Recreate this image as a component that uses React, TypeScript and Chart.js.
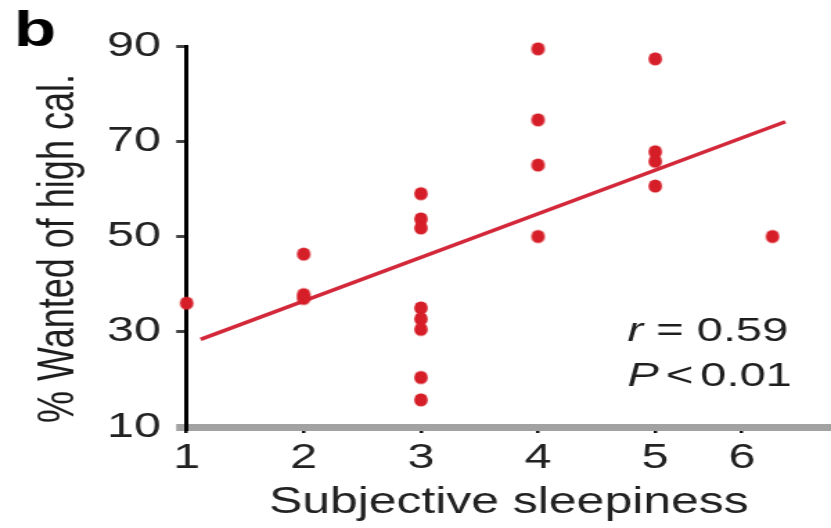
import { useEffect, useRef } from 'react';
import { Chart, registerables } from 'chart.js';

Chart.register(...registerables);

// Subjective sleepiness score vs. % of high-calorie items wanted
const sleepiness = [1, 2, 2, 2, 3, 3, 3, 3, 3, 3, 3, 3, 4, 4, 4, 4, 5, 5, 5, 5, 6];
const wantedHighCal = [36, 46.3, 37.8, 37, 59, 53.7, 51.8, 35, 32.7, 30.5, 20.4, 15.7, 89.4, 74.5, 65, 50, 87.3, 67.8, 65.8, 60.6, 50];

// Least-squares fit line end points
const fitSleepiness = [1.12, 6.11];
const fitWanted = [28.4, 74.1];

const xTickValues = [1, 2, 3, 4, 5, 5.74];
const xTickLabels = ['1', '2', '3', '4', '5', '6'];
const yTickValues = [10, 30, 50, 70, 90];

const panelLetter = 'b';
const xTitle = 'Subjective sleepiness';
const yTitle = '% Wanted of high cal.';
const statR = '0.59';
const statP = '0.01';

const FONT = '"Liberation Sans", Arial, Helvetica, sans-serif';
const RED = '#d61e28';
const LINE_RED = '#d2283a';

// The figure is drawn on a narrower canvas and widened with CSS.
const CANVAS_W = 600;
const CANVAS_H = 528;
const STRETCH = 831 / CANVAS_W;

function makeDot(): HTMLCanvasElement {
  const c = document.createElement('canvas');
  c.width = 12;
  c.height = 16;
  const g = c.getContext('2d')!;
  g.fillStyle = RED;
  g.beginPath();
  g.ellipse(6, 8, 6.8 / STRETCH, 6.6, 0, 0, Math.PI * 2);
  g.fill();
  return c;
}

function drawRun(ctx: CanvasRenderingContext2D, parts: [string, boolean][], x: number, y: number, gap: number) {
  let cx = x;
  for (const [t, italic] of parts) {
    ctx.font = `${italic ? 'italic ' : ''}34px ${FONT}`;
    ctx.fillText(t, cx, y);
    cx += ctx.measureText(t).width + gap;
  }
}

const textPlugin = {
  id: 'figureText',
  afterDraw(chart: Chart) {
    const ctx = chart.ctx;
    ctx.save();
    ctx.fillStyle = '#000';
    ctx.textBaseline = 'alphabetic';
    ctx.textAlign = 'left';
    ctx.font = `bold 50px ${FONT}`;
    ctx.fillText(panelLetter, 10, 46);

    ctx.fillStyle = '#1e1e1e';
    ctx.textBaseline = 'middle';
    drawRun(ctx, [['r', true], ['=', false], [statR, false]], 453, 332, 9.4);
    drawRun(ctx, [['P', true], ['<', false], [statP, false]], 453, 377, 5);

    ctx.translate(52.7, 248.5);
    ctx.rotate(-Math.PI / 2);
    ctx.textAlign = 'center';
    ctx.textBaseline = 'alphabetic';
    ctx.font = `36px ${FONT}`;
    ctx.fillText(yTitle, 0, 0);
    ctx.restore();
  },
};

export default function App() {
  const ref = useRef<HTMLCanvasElement>(null);

  useEffect(() => {
    if (!ref.current) return;
    const dot = makeDot();
    const points = sleepiness.map((x, i) => ({ x, y: wantedHighCal[i] }));
    const fit = fitSleepiness.map((x, i) => ({ x, y: fitWanted[i] }));

    const chart = new Chart(ref.current, {
      type: 'scatter',
      data: {
        datasets: [
          {
            type: 'scatter',
            data: points,
            pointStyle: dot,
            pointRadius: 6,
            backgroundColor: RED,
            borderColor: RED,
            clip: false,
            order: 0,
          },
          {
            type: 'line',
            data: fit,
            borderColor: LINE_RED,
            borderWidth: 3.5,
            pointRadius: 0,
            showLine: true,
            fill: false,
            clip: false,
            order: 1,
          },
        ],
      },
      options: {
        responsive: false,
        maintainAspectRatio: false,
        animation: false,
        devicePixelRatio: 1,
        events: [],
        layout: { autoPadding: false, padding: { top: 46, left: 0, right: 0, bottom: 0 } },
        plugins: { legend: { display: false }, tooltip: { enabled: false } },
        scales: {
          x: {
            type: 'linear',
            min: 1,
            max: 6.5,
            afterFit: (s: any) => {
              s.height = 101;
              s.paddingLeft = 0;
              s.paddingRight = 0;
            },
            afterBuildTicks: (s: any) => { s.ticks = xTickValues.map((v) => ({ value: v })); },
            ticks: {
              callback: (_v: any, i: number) => xTickLabels[i],
              font: { family: FONT, size: 35 },
              color: '#222',
              padding: 4.5,
              maxRotation: 0,
              autoSkip: false,
            },
            grid: {
              drawOnChartArea: false,
              drawTicks: true,
              tickLength: 6,
              color: '#111',
              lineWidth: 2.5,
            },
            border: { display: true, color: '#a2a2a2', width: 7 },
            title: {
              display: true,
              text: xTitle,
              font: { family: FONT, size: 36 },
              color: '#222',
              padding: { top: 0, bottom: 3 },
            },
          },
          y: {
            type: 'linear',
            min: 10,
            max: 90,
            afterFit: (s: any) => {
              s.width = 134.7;
              s.paddingTop = 0;
              s.paddingBottom = 0;
            },
            afterBuildTicks: (s: any) => { s.ticks = yTickValues.map((v) => ({ value: v })); },
            ticks: {
              font: { family: FONT, size: 35 },
              color: '#222',
              padding: 11,
            },
            grid: {
              drawOnChartArea: false,
              drawTicks: true,
              tickLength: 7.5,
              color: (c: any) => (c.tick && c.tick.value === 10 ? '#a2a2a2' : '#444'),
              lineWidth: (c: any) => (c.tick && c.tick.value === 10 ? 7 : 3),
            },
            border: { display: true, color: '#000', width: 3 },
          },
        },
      },
      plugins: [textPlugin],
    });
    return () => chart.destroy();
  }, []);

  return (
    <div style={{ position: 'fixed', left: 0, top: 0, width: 831, height: 528, background: '#fff' }}>
      <canvas
        ref={ref}
        width={CANVAS_W}
        height={CANVAS_H}
        style={{ width: '831px', height: '528px', display: 'block' }}
      />
    </div>
  );
}
